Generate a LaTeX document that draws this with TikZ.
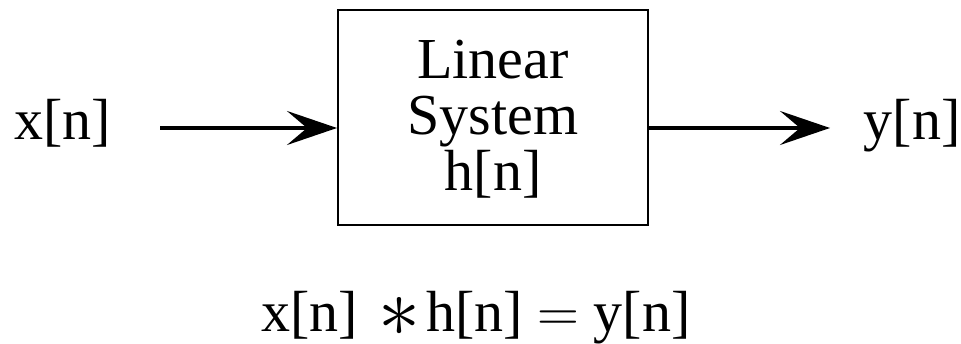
\RequirePackage{fix-cm}
\documentclass[tikz,border=0pt]{standalone}
\usepackage{fontspec}
\setmainfont{Liberation Serif}
\usetikzlibrary{arrows.meta}
\begin{document}
\begin{tikzpicture}[x=1pt,y=-1pt,
  lbl/.style={font=\fontsize{58}{56}\selectfont, inner sep=0pt, anchor=base},
  sysbox/.style={draw, line width=2pt, minimum width=310pt, minimum height=215pt, inner sep=0pt},
  sig/.style={line width=3.2pt, -{Stealth[length=50pt,width=34pt,inset=20pt]}}]
\useasboundingbox (0,0) rectangle (961,344);
\node[sysbox] (sys) at (493,117.5) {};
\node[lbl, align=center, anchor=north] (systxt) at (493,40) {Linear\\System\\h[n]};
\node[lbl] (x) at (63,140) {x[n]};
\node[lbl] (y) at (912,140) {y[n]};
\coordinate (xs) at (160,128);
\coordinate (ye) at (830,128);
\draw[sig] (xs) -- (sys.west |- xs);
\draw[sig] (sys.east |- ye) -- (ye);
\node[lbl] (eq) at (476,332) {x[n]\hspace{0.35em}\raisebox{-5pt}{\fontsize{84}{84}\selectfont$\ast$}\hspace{0.1em}h[n] $=$ y[n]};
\end{tikzpicture}
\end{document}
